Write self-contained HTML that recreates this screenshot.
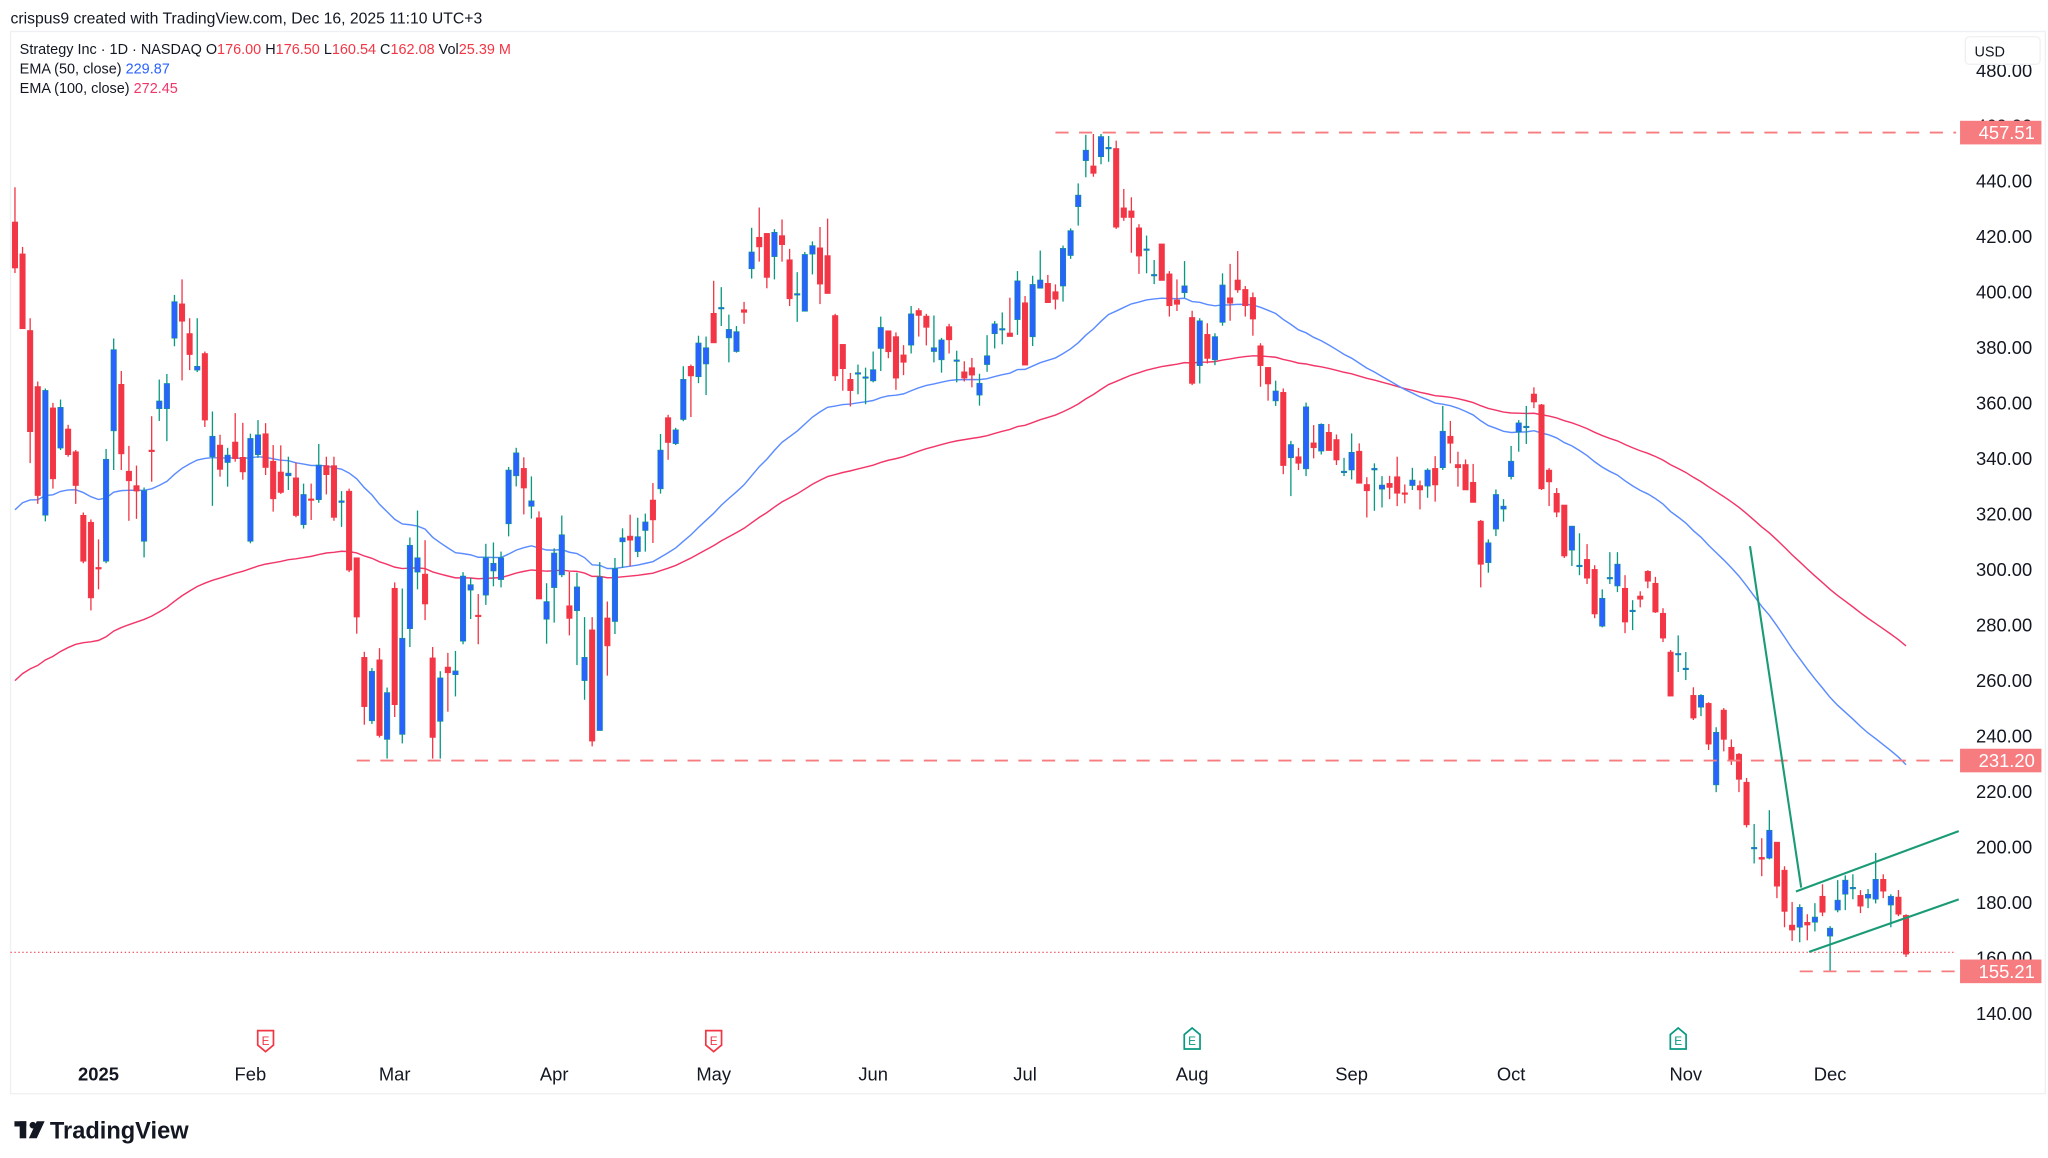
<!DOCTYPE html>
<html><head><meta charset="utf-8"><style>
html,body{margin:0;padding:0;background:#fff;width:2048px;height:1158px;overflow:hidden}
svg{display:block}
text{font-family:"Liberation Sans",Arial,sans-serif}
</style></head><body>
<svg id="chart" width="2048" height="1158" viewBox="0 0 1560 882" preserveAspectRatio="none" xmlns="http://www.w3.org/2000/svg">
<rect x="0" y="0" width="1560" height="882" fill="#fff"/>
<text x="8" y="18" font-size="12" fill="#131722">crispus9 created with TradingView.com, Dec 16, 2025 11:10 UTC+3</text>
<rect x="8" y="24" width="1550" height="809" fill="none" stroke="#eef0f3" stroke-width="1"/>
<g font-size="11">
<text x="15" y="41" fill="#131722">Strategy Inc · 1D · NASDAQ  O<tspan fill="#f23645">176.00</tspan>  H<tspan fill="#f23645">176.50</tspan>  L<tspan fill="#f23645">160.54</tspan>  C<tspan fill="#f23645">162.08</tspan>  Vol<tspan fill="#f23645">25.39 M</tspan></text>
<text x="15" y="56" fill="#131722">EMA (50, close)  <tspan fill="#2962ff">229.87</tspan></text>
<text x="15" y="71" fill="#131722">EMA (100, close)  <tspan fill="#f23669">272.45</tspan></text>
</g>
<g id="yaxis"></g>
<g id="xaxis"></g>
<g id="plot"></g>
<g id="overlay"></g>
<rect x="1497" y="28" width="57" height="21" rx="3" fill="#fff" stroke="#eef0f3"/>
<text x="1504" y="43" font-size="11" fill="#131722">USD</text>
<g>
<rect x="11" y="854" width="9" height="4" fill="#131722"/><rect x="15" y="854" width="5" height="13" fill="#131722"/>
<circle cx="25" cy="857" r="2.5" fill="#131722"/><polygon points="28,854 34,854 28,867 22,867" fill="#131722"/>
<text x="38" y="867" font-size="18" font-weight="bold" fill="#131722">TradingView</text>
</g>
</svg>
<script>
const opens=[425.3,413.8,386.2,366.0,319.6,358.3,343.8,350.7,342.5,319.6,317.1,300.8,303.0,350.0,366.8,335.5,330.3,310.2,343.1,358.0,358.0,383.4,395.8,385.1,371.9,377.9,340.7,344.9,338.6,346.0,340.5,310.2,341.4,349.0,339.1,335.2,333.8,333.1,316.2,325.5,325.2,337.5,337.5,324.2,328.3,304.3,268.4,245.5,267.5,238.8,293.3,240.6,278.7,299.1,298.4,268.2,245.3,264.9,262.1,274.2,292.6,283.6,290.8,299.5,296.4,316.5,333.8,
336.5,322.8,318.7,282.1,293.5,298.1,287,285.2,260,278.3,242,282.6,281.3,310,312.1,306.5,314.1,325.1,329.1,354.8,345.4,354.1,373.3,369.5,374.1,392.4,394.5,383.5,378.6,393.7,408.4,419.8,421.2,412.8,420.4,411.7,399.5,393.1,413.7,416,413.2,391.6,381.2,368.6,371,369.5,368,379.7,386.1,384,377.4,380.9,393.4,391.4,378.6,375.6,387.6,375.6,371.3,372.8,362.9,373.9,385,386.9,385.3,390.1,
396.2,383.9,401.4,403.2,400.2,402.2,413.2,430.8,447.4,445.5,448.8,452.2,451.8,430.4,429.3,423.2,415.6,406.4,417.4,406.6,397.2,399.8,390.9,373.5,384.8,375.6,389.1,398,404.4,401,398.1,380.7,372.9,360.8,363.9,340.3,340.7,336.3,345.7,342.7,349.5,346.9,335.5,335.9,342.7,330.7,335.9,329,331.1,333.5,327.7,330.3,330.3,330.1,336.5,336.7,348.1,337.9,337.9,331.5,317.5,302.5,314.6,321.8,333.5,349.7,
351.7,363.3,359.4,335.9,327.5,323.3,307,301.6,303.7,300.1,279.6,297.2,294.1,293.3,285.4,290.5,299.4,295.1,284.3,270.3,269.8,264.5,254.7,250.4,251.8,222.4,249.4,236,233.5,223.4,199.9,196.3,196,201.8,191.7,171.9,171.1,172.9,172.9,182.3,167.9,177.3,183,185.5,182.6,181.6,181.2,188.4,179.1,182,175.4];
const highs=[437.8,416.3,390.6,367.8,365.3,360.1,361.3,352.2,343.1,320.6,318.1,310.9,343.5,383.3,371.6,344.6,337.5,329.6,355.3,368.5,370.5,399.0,404.6,390.6,390.6,378.6,357.0,348.6,343.9,356.4,352.9,349.0,353.9,352.8,344.9,344.8,340.7,338.6,331.0,331.0,345.3,340.7,340.7,328.3,329.2,304.3,270.4,264.5,271.7,257.5,295.4,293.2,311.6,321.3,310.6,272.1,263.4,270.0,270.7,299.1,297.0,291.2,309.3,309.8,306.5,337.0,343.9,
340.5,333.6,321,295.1,307.7,319.5,299.2,298.9,282.9,282.9,302.7,288.5,304.2,314.9,319.8,318.7,320.2,331.2,348.9,355.8,351.1,373.3,373.9,384.3,384,404.1,401.8,391.9,387.8,396.5,423.2,430.5,421.2,422.7,426.2,415.6,407.2,414.5,418.3,423.5,426.5,392.2,381.2,370.9,373.9,372.8,378.6,391.2,386.1,385.5,380.9,395,394.2,392.2,391.6,383.5,388.6,378.9,375.1,376.3,370.6,384.5,389.6,392.7,398,407.6,
398.6,405.9,415,406.2,402.8,416.8,423,439.2,456.7,457,457,456.3,454.6,437.2,434.2,424.5,420.4,411.6,417.4,407.6,404.6,411.2,393.3,390.6,388.8,385.2,406.8,410.2,414.8,402.2,399.9,381.6,372.9,368.1,365.3,346.4,343.9,360.2,352.1,352.7,352.5,348.7,340.3,349.1,345.5,333.3,338.3,333.7,333.8,340.7,330.7,336.7,332.1,336.5,340.9,359,353.6,342.5,339.7,338.1,317.9,310.9,328.9,325.4,344.6,353.9,
359,365.7,359.7,336.6,329.4,323.3,315.7,313.1,309.2,301.6,292.9,306.3,306.3,298,289,292.2,299.8,297.4,286.1,271,276.3,270.3,257.6,255.1,252.2,243.2,250.1,238.8,233.9,224.9,208.3,203.2,213.3,201.8,193.1,180.2,179.4,175.8,179.8,186.6,171.5,188.1,189.8,190.2,184.5,184.9,197.9,190.2,183,184.5,175.8];
const lows=[406.9,386.8,338.4,323.7,317.4,329.2,343.1,340.7,323.7,302.3,285.3,292.9,302.3,335.9,335.9,317.6,318.3,304.4,331.7,353.6,346.3,380.5,368.2,371.9,371.2,351.4,323.0,333.5,329.9,338.9,332.4,309.5,340.3,334.1,320.9,327.3,328.7,318.9,314.8,317.9,324.1,327.1,317.6,315.4,299.1,276.9,244.1,244.4,239.5,231.9,246.9,237.4,272.1,292.9,281.8,231.9,231.9,248.8,254.3,273.1,282.2,273.1,287.3,294.0,293.6,312.0,330.0,
319.9,318.4,289.4,273.3,280.9,297.3,276.3,265.6,253.1,236.3,242,261.8,276.8,300.7,301.2,304.5,306.5,309.6,327.4,339.6,344.9,353.5,355,367.2,362.9,381.7,387.8,374.7,378.2,388.6,404.9,411,401.4,404.6,411,395,389.3,393.1,406.4,395.7,399.5,368,364.5,358.8,363.2,359.6,367.5,371.6,376.2,364.8,370.1,377.9,384,380.8,374.7,371,377.9,367.5,367.8,365.7,359.1,371.3,379.7,381.2,384,384.6,
373.7,380.6,401.4,396.2,393.8,396.6,412,424,441.4,441.6,446.1,447,422.8,425.7,414.2,406.6,406.8,402.9,404.2,391.2,393.2,398,366.5,367.1,374.3,373.7,387.9,389.7,399.8,391.2,384.3,365.9,360.9,359,334.4,326.5,335.9,333.7,340.1,341.5,342.9,337.7,333.7,332.5,331.1,318.8,321.2,322.4,325.4,322.9,323.9,328.7,321.7,325.9,324.5,335.9,338.3,329.9,328.7,324.2,293.6,298.9,312.1,317.3,332.5,342.5,
345.3,358.2,328.7,322.9,318.9,304.2,301.3,298,294.8,282.5,279.2,294.8,291.9,277.1,278.2,286.4,293.3,284.4,273.9,254.4,263.1,260.2,245.8,247.2,235,219.8,234.5,229.6,219.8,207.1,194.1,189.5,195.6,181.6,171.1,166.2,165.7,166.4,169.6,175.1,155.2,176.5,177.3,181.2,176.2,178,179.7,181.6,171.1,175.1,160.4];
const closes=[408.7,386.8,349.7,326.7,364.6,332.7,358.5,341.4,330.3,303.0,289.8,300.2,339.8,379.3,341.7,332.0,328.3,328.5,342.5,360.8,367.1,396.6,389.5,377.5,373.3,353.9,348.1,336.1,341.3,340.0,335.2,347.3,348.6,336.8,325.5,327.8,334.8,319.5,327.1,325.2,337.7,334.2,318.8,324.8,299.8,282.9,250.6,263.4,240.2,255.7,251.3,275.3,308.8,304.3,287.6,239.5,261.0,262.8,263.5,297.7,294.6,283.3,304.3,302.3,304.3,335.9,342.1,
329.4,324.8,289.4,288.5,306,312.6,282.4,293.8,268.4,238.2,297.4,272.5,300.4,311.5,310.6,311.9,317.2,317.9,343.1,345.8,350.4,368.6,369.8,381.7,380,381.7,394.5,386.6,385.8,392.7,414.5,416.3,405.3,421.6,417.1,397.6,399.5,413.6,416.8,402.9,399.5,369.8,372.4,364.5,371,369.5,372.1,387.3,378.5,369,374.7,392.2,391.6,387.3,380,382.8,382.8,375.6,369,370.1,367.2,377.1,388.6,386.9,384,404.1,
373.7,402.8,404.4,396.2,397.4,415.8,422.2,435,451.2,442.8,456.1,452.2,423.4,426.9,426.9,413,415.6,406.4,404.2,395.1,395.6,402.3,367.1,389.7,376.1,384,402.6,396,400.8,395.1,390.3,373.5,366.9,364.4,337.5,345.1,338.3,358.7,343.9,352.4,342.9,339.5,335.5,342.3,331.1,328.4,336.5,330.5,329.6,327.5,327.1,332.3,328.7,335.9,330.5,349.9,345.5,336.7,328.7,324.2,301.9,309.7,327.1,322.9,339.1,352.9,
351.7,360.4,329.1,331.6,320.7,304.9,315.7,301.6,296.9,284,289.7,297.2,302,281.1,285.4,289.3,295.8,284.7,275.3,254.4,269.8,264.5,246.5,254.7,237.1,241.4,238.8,231.3,224.4,208,199.9,195.6,206.1,185.9,176.8,170.1,178.3,171.9,174.8,176.5,170.8,180.9,188.1,185.5,178.7,183,188.4,184.1,182.3,175.8,161.4];
const ema50Seed=318;
const ema100Seed=257;
const yTicks=[480,460,440,420,400,380,360,340,320,300,280,260,240,220,200,180,160,140];
const monthLabels=["2025","Feb","Mar","Apr","May","Jun","Jul","Aug","Sep","Oct","Nov","Dec"];
const monthBars=[11,31,50,71,92,113,133,155,176,197,220,239];
const earnBars=[33,92,155,219];
const earnBeat=[false,false,true,true];
const levels=[457.51,231.20,155.21];
const levelStartBars=[137,45,235];
const lastClose=162.08;

const NS="http://www.w3.org/2000/svg";
const xS=i=>11.4+5.785*i;
const yS=v=>138+(440-v)*2.1133;
function mk(tag,attrs,parent){const e=document.createElementNS(NS,tag);for(const k in attrs)e.setAttribute(k,attrs[k]);parent.appendChild(e);return e;}
const plot=document.getElementById('plot'),yax=document.getElementById('yaxis'),xax=document.getElementById('xaxis'),ov=document.getElementById('overlay');

yTicks.forEach(v=>{const t=mk('text',{x:1548,y:yS(v)+5,'font-size':14,'text-anchor':'end',fill:'#131722'},yax);t.textContent=v.toFixed(2);

});

monthLabels.forEach((m,k)=>{const t=mk('text',{x:xS(monthBars[k]),y:823,'font-size':14,'text-anchor':'middle',fill:'#131722','font-weight':k===0?'bold':'normal'},xax);t.textContent=m;

});

earnBars.forEach((b,k)=>{const x=xS(b),c=earnBeat[k]?'#089981':'#f23645';const g=mk('g',{},xax);


if(earnBeat[k])mk('path',{d:`M${x-6} 799 L${x-6} 788 L${x} 783 L${x+6} 788 L${x+6} 799 Z`,fill:'#fff',stroke:c,'stroke-width':1.3},g);
else mk('path',{d:`M${x-6} 785 L${x+6} 785 L${x+6} 796 L${x} 801 L${x-6} 796 Z`,fill:'#fff',stroke:c,'stroke-width':1.3},g);
const t=mk('text',{x:x,y:796,'font-size':9,'text-anchor':'middle',fill:c},g);t.textContent='E';});

let e50=ema50Seed,e100=ema100Seed,p50=[],p100=[];
closes.forEach((c,i)=>{e50=e50+(c-e50)*2/51;e100=e100+(c-e100)*2/101;p50.push(xS(i)+','+yS(e50));p100.push(xS(i)+','+yS(e100));});
const l100=mk('polyline',{points:p100.join(' '),fill:'none',stroke:'#f23669','stroke-width':1.1},plot);


const l50=mk('polyline',{points:p50.join(' '),fill:'none',stroke:'#5b8cff','stroke-width':1.1},plot);



closes.forEach((c,i)=>{const o=opens[i],up=c>=o,x=xS(i);const g=mk('g',{},plot);


mk('line',{x1:x,x2:x,y1:yS(highs[i]),y2:yS(lows[i]),stroke:up?'#089981':'#f23645','stroke-width':1},g);
const top=yS(Math.max(o,c)),h=Math.max(1.2,Math.abs(yS(o)-yS(c)));
mk('rect',{x:x-2.1,y:top,width:4.2,height:h,fill:up?'#2962ff':'#f23645',stroke:up?'#089981':'#f23645','stroke-width':0.4},g);});

const lp=mk('line',{x1:8,x2:1490,y1:yS(lastClose),y2:yS(lastClose),stroke:'#f23645','stroke-width':0.8,'stroke-dasharray':'1,2'},ov);



levels.forEach((v,k)=>{const ln=mk('line',{x1:xS(levelStartBars[k]),x2:1490,y1:yS(v),y2:yS(v),stroke:'#f77c80','stroke-width':1.4,'stroke-dasharray':'10,8'},ov);


const r=mk('rect',{x:1493,y:yS(v)-9,width:62,height:18,fill:'#f77c80'},ov);


const t=mk('text',{x:1550,y:yS(v)+5,'font-size':14,'text-anchor':'end',fill:'#fff'},ov);t.textContent=v.toFixed(2);});

const tl=[[1333,416,1372,676],[1368,679,1492,633],[1378,725,1492,685]];
tl.forEach(s=>{const l=mk('line',{x1:s[0],y1:s[1],x2:s[2],y2:s[3],stroke:'#1a9b76','stroke-width':1.6},ov);

});
</script>
</body></html>
